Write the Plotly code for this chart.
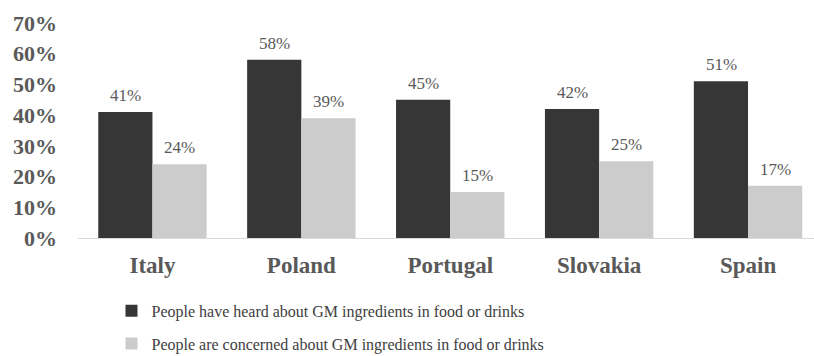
import plotly.graph_objects as go

countries = ["Italy", "Poland", "Portugal", "Slovakia", "Spain"]
heard = [0.41, 0.58, 0.45, 0.42, 0.51]
concerned = [0.24, 0.39, 0.15, 0.25, 0.17]
series_names = [
    "People have heard about GM ingredients in food or drinks",
    "People are concerned about GM ingredients in food or drinks",
]
colors = ["#363636", "#cccccc"]

serif = "Liberation Serif, Times New Roman, serif"

fig = go.Figure()
for i, (vals, name) in enumerate(zip([heard, concerned], series_names)):
    fig.add_trace(go.Bar(
        x=countries, y=vals, name=name,
        marker=dict(color=colors[i], line=dict(width=0)),
        legendgroup=f"g{i}",
    ))

annotations = []
for i, vals in enumerate([heard, concerned]):
    shift = -27 if i == 0 else 27
    for c, v in zip(countries, vals):
        annotations.append(dict(
            x=c, y=v, text=f"{round(v*100)}%", showarrow=False,
            xshift=shift, yanchor="bottom", yshift=5,
            font=dict(family=serif, size=17, color="#595959"),
        ))

fig.update_layout(
    width=814, height=356,
    margin=dict(l=78, r=0, t=23, b=118, autoexpand=False),
    paper_bgcolor="white", plot_bgcolor="white",
    barmode="group", bargap=0.272, bargroupgap=0,
    showlegend=True,
    legend=dict(
        orientation="v", x=0.0455, xanchor="left", y=-0.26, yanchor="top",
        font=dict(family=serif, size=16, color="#404040"),
        tracegroupgap=9, traceorder="grouped",
        bgcolor="rgba(0,0,0,0)",
    ),
    annotations=annotations,
    xaxis=dict(
        range=[-0.5, 4.443], showline=True, linecolor="#d9d9d9", linewidth=1,
        showgrid=False, ticks="", ticklabelstandoff=6,
        tickfont=dict(family=serif, size=23, color="#595959", weight="bold"),
    ),
    yaxis=dict(
        range=[0, 0.7], dtick=0.1, tickformat=".0%", showgrid=False,
        zeroline=False, showline=False, ticks="", ticklabelstandoff=20,
        tickfont=dict(family=serif, size=22, color="#595959", weight="bold"),
    ),
)

fig.write_html("out.html")
